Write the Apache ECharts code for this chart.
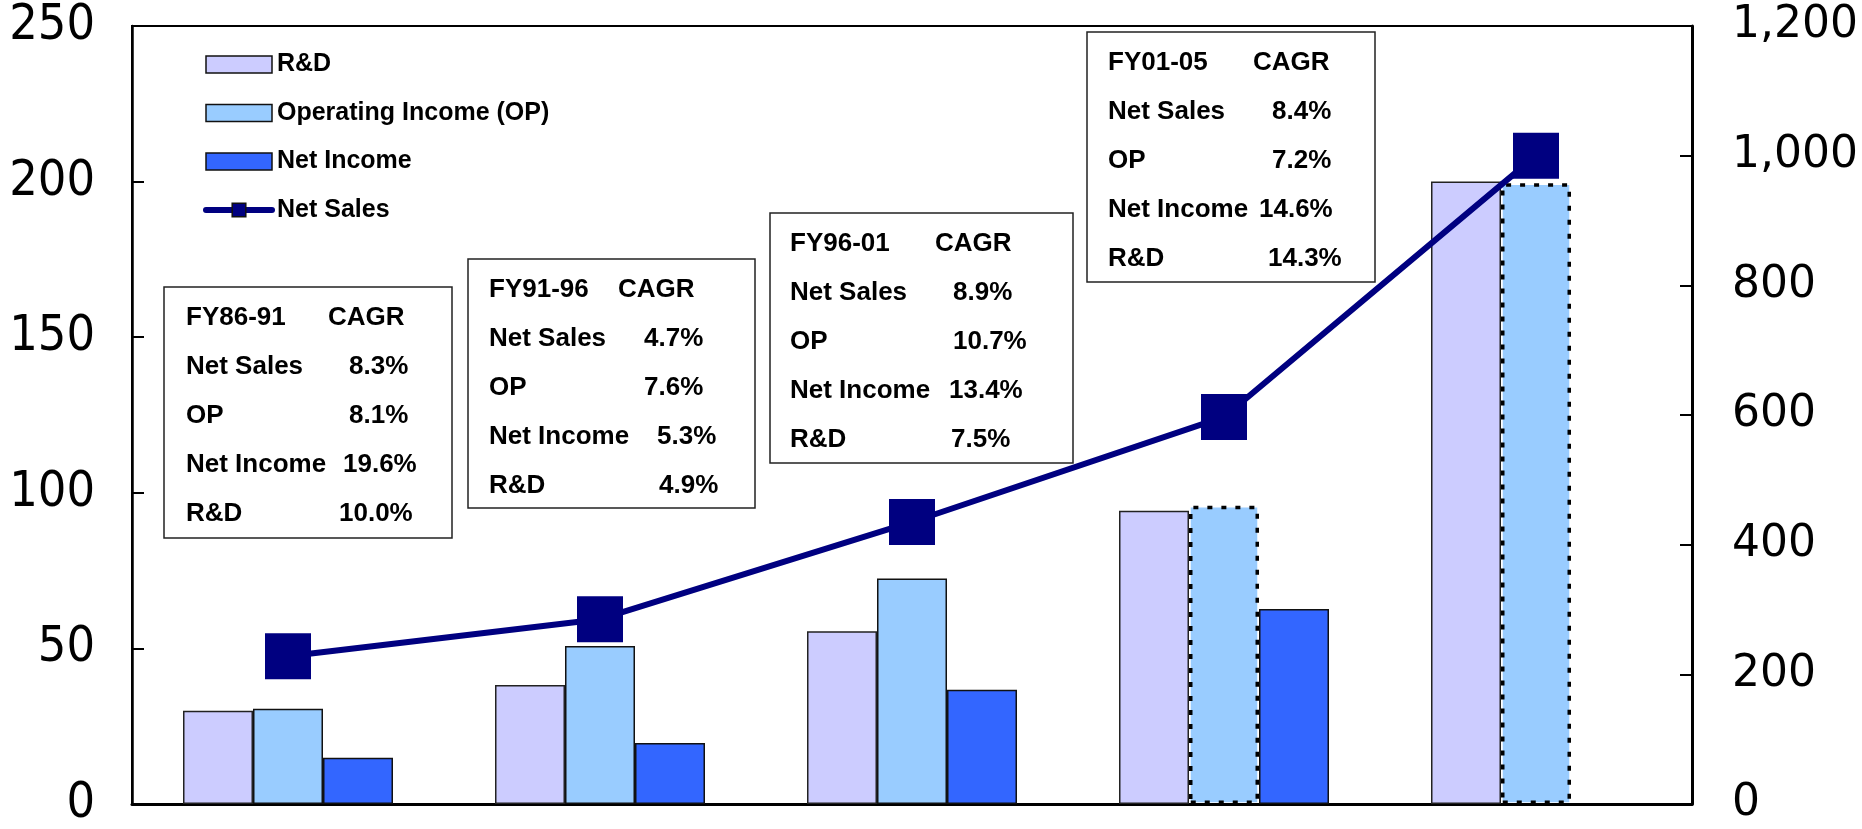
<!DOCTYPE html>
<html lang="en">
  <head>
    <meta charset="UTF-8">
    <title>Net Sales, OP, Net Income and R&amp;D</title>
    <style>
      html, body { margin: 0; padding: 0; background: #fff; }
      #chart { width: 1862px; height: 829px; }
    </style>
  </head>
  <body>
    <div id="chart"></div>
    <script src="https://cdn.jsdelivr.net/npm/echarts@6/dist/echarts.min.js"></script>
    <script type="text/javascript">
      // data
      var categories = ['1', '2', '3', '4', '5'];
      var rdData = [30, 38.2, 55.5, 94.2, 200];
      var opData = [30.6, 50.8, 72.5, 95.8, 199.5];
      var niData = [14.9, 19.6, 36.7, 62.7, null];
      var salesData = [228, 285, 435, 597, 1000];
      var leftTicks = [0, 50, 100, 150, 200, 250];
      var rightTicks = [0, 200, 400, 600, 800, 1000, 1200];

      // CAGR boxes
      var cagrHeads = ['FY86-91', 'FY91-96', 'FY96-01', 'FY01-05'];
      var cagrLabels = ['Net Sales', 'OP', 'Net Income', 'R&D'];
      var cagrValues = [
        ['8.3%', '8.1%', '19.6%', '10.0%'],
        ['4.7%', '7.6%', '5.3%', '4.9%'],
        ['8.9%', '10.7%', '13.4%', '7.5%'],
        ['8.4%', '7.2%', '14.6%', '14.3%']
      ];

      // box placement (pixels)
      var boxes = [
        { x: 164, y: 287, w: 288, h: 251, tx: 186, cx: 328, vx: [349, 349, 343, 339] },
        { x: 468, y: 259, w: 287, h: 249, tx: 489, cx: 618, vx: [644, 644, 657, 659] },
        { x: 770, y: 213, w: 303, h: 250, tx: 790, cx: 935, vx: [953, 953, 949, 951] },
        { x: 1087, y: 32, w: 288, h: 250, tx: 1108, cx: 1253, vx: [1272, 1272, 1259, 1268] }
      ];

      var boxFont = 'bold 26px "Liberation Sans", Arial, sans-serif';
      var graphics = [];
      boxes.forEach(function (b, i) {
        graphics.push({
          type: 'rect', z: 20,
          shape: { x: b.x, y: b.y, width: b.w, height: b.h },
          style: { fill: '#fff', stroke: '#222', lineWidth: 1.5 }
        });
        var ty = b.y + 31;
        graphics.push({ type: 'text', z: 21, style: { text: cagrHeads[i], x: b.tx, y: ty, font: boxFont, fill: '#000', align: 'left', verticalAlign: 'middle' } });
        graphics.push({ type: 'text', z: 21, style: { text: 'CAGR', x: b.cx, y: ty, font: boxFont, fill: '#000', align: 'left', verticalAlign: 'middle' } });
        for (var r = 0; r < cagrLabels.length; r++) {
          var ry = ty + 49 * (r + 1);
          graphics.push({ type: 'text', z: 21, style: { text: cagrLabels[r], x: b.tx, y: ry, font: boxFont, fill: '#000', align: 'left', verticalAlign: 'middle' } });
          graphics.push({ type: 'text', z: 21, style: { text: cagrValues[i][r], x: b.vx[r], y: ry, font: boxFont, fill: '#000', align: 'left', verticalAlign: 'middle' } });
        }
      });

      // OP bars for the last two periods have a dotted outline
      var opSeriesData = opData.map(function (v, i) {
        if (i >= 3) {
          return { value: v, itemStyle: { borderColor: '#000', borderWidth: 3.5, borderType: [5, 9] } };
        }
        return v;
      });

      var myChart = echarts.init(document.getElementById('chart'));

      var option = {
        backgroundColor: '#fff',
        animation: false,
        grid: {
          left: 132, right: 170, top: 26, bottom: 18,
          show: true, borderColor: '#000', borderWidth: 2
        },
        legend: {
          orient: 'vertical',
          left: 198,
          top: 47,
          itemWidth: 66,
          itemHeight: 17,
          itemGap: 23.5,
          data: [
            { name: 'R&D', icon: 'rect' },
            { name: 'Operating Income (OP)', icon: 'rect' },
            { name: 'Net Income', icon: 'rect' },
            'Net Sales'
          ],
          itemStyle: { borderWidth: 1.5, borderColor: '#111' },
          lineStyle: { width: 6, cap: 'round', color: '#000080' },
          textStyle: {
            fontFamily: '"Liberation Sans", Arial, sans-serif',
            fontWeight: 'bold',
            fontSize: 25,
            color: '#000'
          }
        },
        xAxis: {
          type: 'category',
          data: categories,
          axisLine: { lineStyle: { color: '#000', width: 3 } },
          axisTick: { inside: true, length: 14, lineStyle: { color: '#000', width: 2 } },
          axisLabel: { show: false },
          splitLine: { show: false }
        },
        yAxis: [{
          type: 'value',
          min: leftTicks[0],
          max: leftTicks[leftTicks.length - 1],
          interval: 50,
          axisLine: { show: true, lineStyle: { color: '#000', width: 2.5 } },
          axisTick: { show: true, inside: true, length: 12, lineStyle: { color: '#000', width: 2 } },
          splitLine: { show: false },
          axisLabel: {
            color: '#000',
            fontFamily: '"Liberation Sans Narrow", "DejaVu Sans Condensed", sans-serif',
            fontSize: 50,
            margin: 37
          }
        }, {
          type: 'value',
          position: 'right',
          min: rightTicks[0],
          max: rightTicks[rightTicks.length - 1],
          interval: 200,
          axisLine: { show: true, lineStyle: { color: '#000', width: 3 } },
          axisTick: { show: true, inside: true, length: 12, lineStyle: { color: '#000', width: 2 } },
          splitLine: { show: false },
          axisLabel: {
            color: '#000',
            fontFamily: '"DejaVu Sans", Verdana, sans-serif',
            fontSize: 44,
            margin: 40,
            formatter: function (v) { return v.toLocaleString('en-US'); }
          }
        }],
        series: [{
          name: 'R&D',
          type: 'bar',
          barWidth: 70,
          barGap: '0%',
          itemStyle: { color: '#CCCCFF', borderColor: '#222', borderWidth: 1.5 },
          data: rdData
        }, {
          name: 'Operating Income (OP)',
          type: 'bar',
          barWidth: 70,
          barGap: '0%',
          itemStyle: { color: '#99CCFF', borderColor: '#111', borderWidth: 1.5 },
          data: opSeriesData
        }, {
          name: 'Net Income',
          type: 'bar',
          barWidth: 70,
          barGap: '0%',
          itemStyle: { color: '#3366FF', borderColor: '#111', borderWidth: 1.5 },
          data: niData
        }, {
          name: 'Net Sales',
          type: 'line',
          yAxisIndex: 1,
          z: 5,
          symbol: 'rect',
          symbolSize: 46,
          lineStyle: { color: '#000080', width: 6 },
          itemStyle: { color: '#000080' },
          data: salesData
        }],
        graphic: graphics
      };

      myChart.setOption(option);
    </script>
  </body>
</html>
